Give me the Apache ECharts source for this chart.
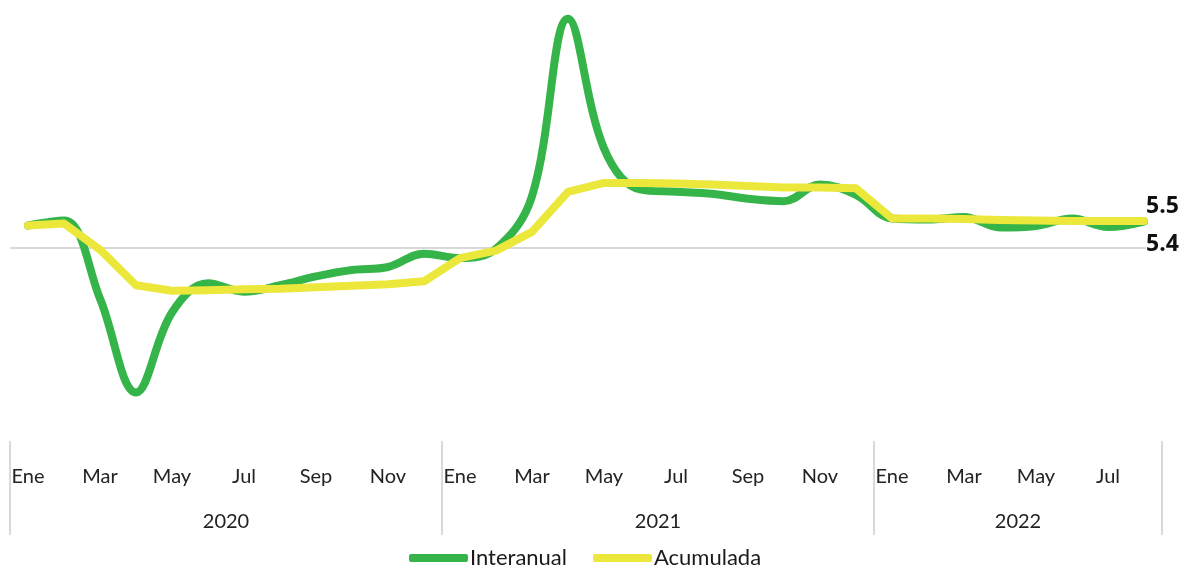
<!DOCTYPE html>
<html>
<head>
<meta charset="utf-8">
<script src="https://cdn.jsdelivr.net/npm/echarts@6/dist/echarts.min.js"></script>
<style>
html,body{margin:0;padding:0;background:#fff;}
#chart{width:1182px;height:569px;}
</style>
</head>
<body>
<div id="chart"></div>
<script>
const monthNames = ['Ene','Feb','Mar','Abr','May','Jun','Jul','Ago','Sep','Oct','Nov','Dic'];
const years = ['2020','2021','2022'];
const monthsPerYear = [12, 12, 8];
const interanual = [
  4.6, 5.6, -10.2, -29.2, -13.0, -7.1, -8.8, -7.5, -5.7, -4.4, -3.8, -1.1,
  -2.0, -0.1, 10.5, 46.4, 20.2, 11.9, 11.4, 11.0, 10.0, 9.5, 12.9, 10.8,
  6.0, 5.8, 6.3, 4.2, 4.5, 6.0, 4.3, 5.4
];
const acumulada = [
  4.6, 5.0, -0.3, -7.5, -8.6, -8.5, -8.3, -8.2, -7.9, -7.6, -7.3, -6.7,
  -2.0, -0.5, 3.3, 11.4, 13.2, 13.2, 13.1, 12.9, 12.6, 12.3, 12.3, 12.1,
  6.0, 6.0, 5.9, 5.7, 5.6, 5.5, 5.5, 5.5
];

const categories = [];
const yearBounds = [0];
const yearCenters = [];
monthsPerYear.forEach((n, yi) => {
  for (let m = 0; m < n; m++) categories.push(monthNames[m] + ' ' + years[yi]);
  const start = yearBounds[yearBounds.length - 1];
  yearCenters.push(start + n / 2);
  yearBounds.push(start + n);
});
const total = categories.length;

const FONT = 'Lato';
const LABEL_FONT = '"Open Sans"';
const chart = echarts.init(document.getElementById('chart'), null, {renderer: 'canvas'});
chart.setOption({
  animation: false,
  backgroundColor: '#ffffff',
  textStyle: {fontFamily: FONT},
  grid: {left: 10, right: 20, top: 1, bottom: 128, containLabel: false},
  legend: {
    bottom: 0,
    left: 409,
    padding: 0,
    icon: 'roundRect',
    itemWidth: 59,
    itemHeight: 8,
    itemGap: 26,
    textStyle: {fontFamily: FONT, fontSize: 22, color: '#1a1a1a', padding: [0, 0, 0, -3]},
    data: ['Interanual', 'Acumulada']
  },
  xAxis: [
    {
      type: 'category',
      data: categories,
      boundaryGap: true,
      axisLine: {show: false},
      axisTick: {show: false},
      axisLabel: {
        interval: 1,
        margin: 26,
        fontFamily: FONT,
        fontSize: 20,
        color: '#222222',
        formatter: v => v.split(' ')[0]
      }
    },
    {
      type: 'value',
      min: 0,
      max: total,
      position: 'bottom',
      axisLine: {show: false},
      splitLine: {show: false},
      axisTick: {
        show: true,
        customValues: yearBounds,
        length: 94,
        lineStyle: {color: '#d9d9d9', width: 2}
      },
      axisLabel: {
        show: true,
        customValues: yearCenters,
        margin: 71,
        fontFamily: FONT,
        fontSize: 20,
        color: '#222222',
        formatter: v => years[yearCenters.indexOf(v)] || ''
      }
    }
  ],
  yAxis: {
    type: 'value',
    min: -39,
    max: 50,
    show: true,
    axisLine: {show: false},
    axisTick: {show: false},
    axisLabel: {show: false},
    splitLine: {show: false}
  },
  series: [
    {
      name: 'Interanual',
      type: 'line',
      data: interanual,
      xAxisIndex: 0,
      smooth: 0.38,
      showSymbol: false,
      symbol: 'none',
      color: '#35b44a',
      lineStyle: {width: 8, color: '#35b44a', cap: 'round', join: 'round'},
      endLabel: {
        show: true,
        formatter: p => p.value.toFixed(1),
        fontFamily: LABEL_FONT,
        fontWeight: 'bold',
        fontSize: 23,
        color: '#111111',
        backgroundColor: '#ffffff',
        offset: [-6, 23]
      },
      markLine: {
        silent: true,
        symbol: ['none', 'none'],
        label: {show: false},
        lineStyle: {color: '#d9d9d9', width: 2, type: 'solid'},
        data: [{yAxis: 0}],
        z: 1
      },
      z: 2
    },
    {
      name: 'Acumulada',
      type: 'line',
      data: acumulada,
      xAxisIndex: 0,
      smooth: false,
      showSymbol: false,
      symbol: 'none',
      color: '#ebe73b',
      lineStyle: {width: 8, color: '#ebe73b', cap: 'round', join: 'round'},
      endLabel: {
        show: true,
        formatter: p => p.value.toFixed(1),
        fontFamily: LABEL_FONT,
        fontWeight: 'bold',
        fontSize: 23,
        color: '#111111',
        offset: [-6, -15]
      },
      z: 3
    }
  ]
});
</script>
</body>
</html>
